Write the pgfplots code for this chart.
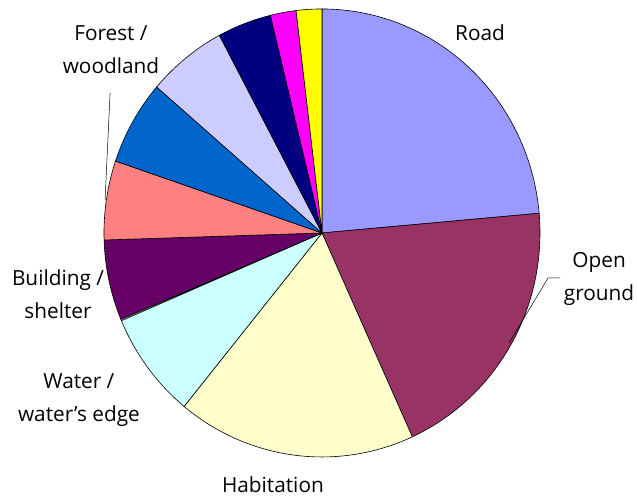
\documentclass[border=0pt]{standalone}
\usepackage{pgfplots}
\pgfplotsset{compat=1.18}
\usepackage{fontspec}
\setmainfont{Open Sans}
\definecolor{road}{HTML}{9999FF}
\definecolor{open}{HTML}{993366}
\definecolor{habit}{HTML}{FFFFCC}
\definecolor{water}{HTML}{CCFFFF}
\definecolor{build}{HTML}{660066}
\definecolor{forest}{HTML}{FF8080}
\definecolor{blue6}{HTML}{0066CC}
\definecolor{lav}{HTML}{CCCCFF}
\definecolor{navy}{HTML}{000080}
\definecolor{mag}{HTML}{FF00FF}
\definecolor{yel}{HTML}{FFFF00}
\begin{document}
\begin{tikzpicture}
\begin{axis}[
  x=218pt, y=224pt,
  xmin=-1.477, xmax=1.445, ymin=-1.179, ymax=1.040,
  hide axis, clip=false,
]
\coordinate (ll) at (axis cs:-1.477,-1.179);
\coordinate (ur) at (axis cs:1.445,1.040);
\xdef\cum{0}
\foreach \v/\c in {23.6/road,19.6/open,17.7/habit,7.7/water,0.1/white,5.8/build,5.7/forest,6.1/blue6,5.9/lav,4.0/navy,1.9/mag,1.9/yel}{
  \pgfmathsetmacro\a{90-3.6*\cum}
  \pgfmathsetmacro\b{90-3.6*(\cum+\v)}
  \edef\temp{\noexpand\addplot[draw=black, line width=0.6pt, fill=\c, domain=\b:\a, samples=80] ({cos(x)},{sin(x)}) -- (axis cs:0,0) -- cycle;}
  \temp
  \pgfmathsetmacro\newcum{\cum+\v}
  \xdef\cum{\newcum}
}
\addplot[black, line width=0.5pt] coordinates {(0.858,-0.491) (1.037,-0.201) (1.092,-0.201)};
\addplot[black, line width=0.5pt] coordinates {(-0.972,0.625) (-0.995,0.147)};
\begin{scope}[every node/.style={font=\fontsize{20.8}{33}\selectfont, align=center, inner sep=0pt}]
\node at (axis cs:0.725,0.893) {Road};
\node at (axis cs:1.271,-0.205) {Open\\ground};
\node at (axis cs:-0.225,-1.125) {Habitation};
\node at (axis cs:-1.115,-0.746) {Water /\\water’s edge};
\node at (axis cs:-1.211,-0.272) {Building /\\shelter};
\node at (axis cs:-0.968,0.817) {Forest /\\woodland};
\end{scope}
\end{axis}
\pgfresetboundingbox
\path (ll) rectangle (ur);
\end{tikzpicture}
\end{document}
